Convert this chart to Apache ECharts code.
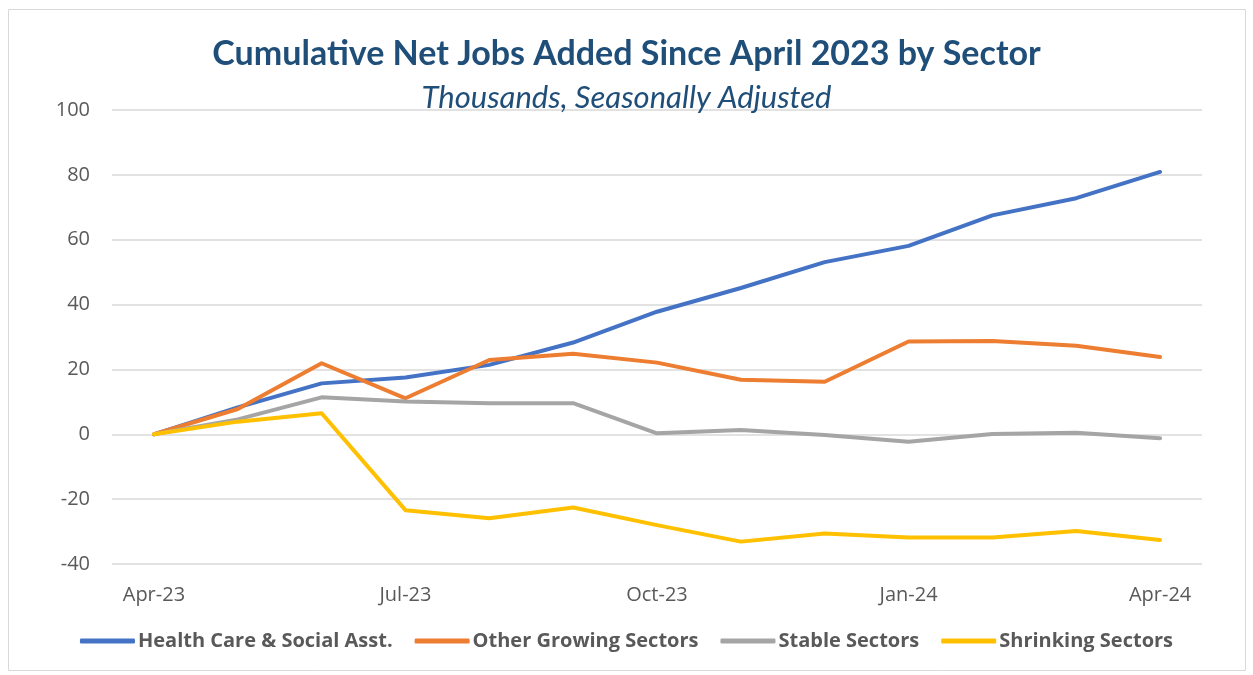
<!DOCTYPE html>
<html lang="en">
<head>
<meta charset="utf-8">
<script src="https://cdn.jsdelivr.net/npm/echarts@6/dist/echarts.min.js"></script>
<style>
  html, body { margin: 0; padding: 0; background: #fff; }
  #main { width: 1253px; height: 675px; }
</style>
</head>
<body>
<div id="main"></div>
<script type="text/javascript">
var months = ['Apr-23', 'May-23', 'Jun-23', 'Jul-23', 'Aug-23', 'Sep-23', 'Oct-23',
              'Nov-23', 'Dec-23', 'Jan-24', 'Feb-24', 'Mar-24', 'Apr-24'];
var healthCare = [0, 8.3, 15.7, 17.5, 21.4, 28.3, 37.8, 45.1, 53.1, 58.1, 67.5, 72.8, 80.9];
var otherGrowing = [0, 7.8, 21.9, 11.1, 22.9, 24.8, 22.1, 16.8, 16.2, 28.6, 28.8, 27.3, 23.8];
var stable = [0, 4.6, 11.4, 10.1, 9.6, 9.6, 0.3, 1.3, -0.2, -2.3, 0.1, 0.5, -1.2];
var shrinking = [0, 3.9, 6.5, -23.4, -25.9, -22.6, -28.0, -33.1, -30.6, -31.8, -31.8, -29.8, -32.6];

var myChart = echarts.init(document.getElementById('main'));
var titleFont = 'Lato, "Open Sans", sans-serif';
var font = '"Open Sans", Lato, sans-serif';

function line(name, data, color) {
    return {
        name: name,
        type: 'line',
        data: data,
        symbol: 'none',
        smooth: false,
        lineStyle: { width: 4, color: color, cap: 'round', join: 'round' },
        itemStyle: { color: color }
    };
}

var option = {
    backgroundColor: '#fff',
    animation: false,
    title: [{
        text: 'Cumulative Net Jobs Added Since April 2023 by Sector',
        left: 'center',
        top: 32,
        textStyle: { fontFamily: titleFont, fontSize: 34, fontWeight: 'bold', color: '#1f4e79' }
    }, {
        text: 'Thousands, Seasonally Adjusted',
        left: 'center',
        top: 77,
        textStyle: { fontFamily: titleFont, fontSize: 31, fontWeight: 'normal', fontStyle: 'italic', color: '#1f4e79' }
    }],
    legend: {
        bottom: 19,
        left: 'center',
        icon: 'roundRect',
        itemWidth: 55,
        itemHeight: 5,
        itemGap: 22,
        textStyle: { fontFamily: font, fontSize: 20, fontWeight: 'bold', color: '#595959', padding: [0, 0, 0, -2] },
        data: ['Health Care & Social Asst.', 'Other Growing Sectors', 'Stable Sectors', 'Shrinking Sectors']
    },
    grid: { left: 112, right: 51, top: 110, bottom: 111, containLabel: false },
    xAxis: {
        type: 'category',
        data: months,
        boundaryGap: true,
        axisLine: { show: false },
        axisTick: { show: false },
        axisLabel: { interval: 2, margin: 21, fontFamily: font, fontSize: 20, color: '#595959' },
        splitLine: { show: false }
    },
    yAxis: {
        type: 'value',
        min: -40,
        max: 100,
        interval: 20,
        axisLine: { show: false },
        axisTick: { show: false },
        axisLabel: { margin: 22, fontFamily: font, fontSize: 20, color: '#595959' },
        splitLine: { lineStyle: { color: '#d9d9d9', width: 1.5 } }
    },
    graphic: [{
        type: 'rect',
        shape: { x: 8.5, y: 9.5, width: 1237, height: 661 },
        style: { fill: 'none', stroke: '#d9d9d9', lineWidth: 1 },
        silent: true,
        z: -10
    }],
    series: [
        line('Health Care & Social Asst.', healthCare, '#4472c4'),
        line('Other Growing Sectors', otherGrowing, '#ed7d31'),
        line('Stable Sectors', stable, '#a5a5a5'),
        line('Shrinking Sectors', shrinking, '#ffc000')
    ]
};

myChart.setOption(option);
</script>
</body>
</html>
